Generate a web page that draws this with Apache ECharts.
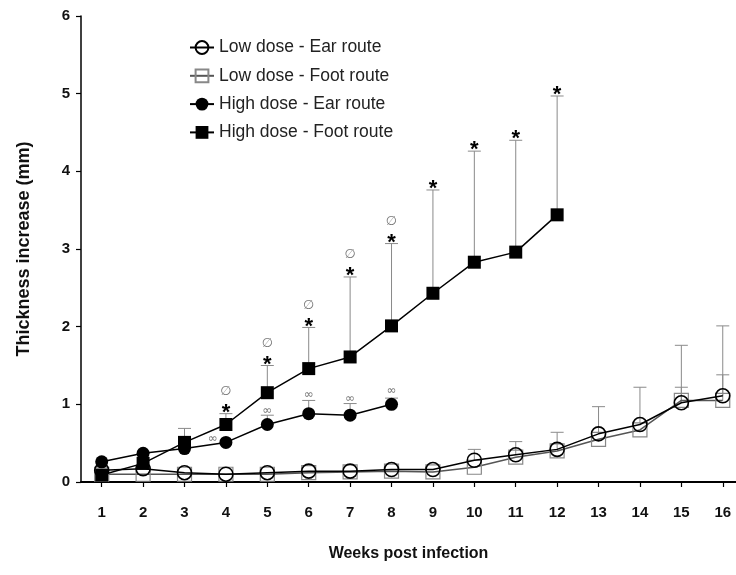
<!DOCTYPE html>
<html><head><meta charset="utf-8">
<script src="https://cdn.jsdelivr.net/npm/echarts@6/dist/echarts.min.js"></script>
<style>html,body{margin:0;padding:0;background:#fff}#c{width:736px;height:575px}</style>
</head><body><div id="c"></div>
<script>
// ---- data ----
const weeks = [1,2,3,4,5,6,7,8,9,10,11,12,13,14,15,16];
const yTicks = [0,1,2,3,4,5,6];
const seriesNames = ['Low dose - Ear route','Low dose - Foot route','High dose - Ear route','High dose - Foot route'];

const lowEar   = [0.15,0.17,0.12,0.10,0.12,0.14,0.14,0.16,0.16,0.28,0.35,0.42,0.62,0.74,1.02,1.11];
const lowFoot  = [0.10,0.10,0.10,0.10,0.10,0.12,0.13,0.14,0.13,0.19,0.32,0.40,0.55,0.67,1.05,1.05];
const highEar  = [0.26,0.37,0.43,0.51,0.74,0.88,0.86,1.00];
const highFoot = [0.09,0.24,0.51,0.74,1.15,1.46,1.61,2.01,2.43,2.83,2.96,3.44];

// upward error (SD) per week, null = not drawn
const lowEarSd   = [null,null,null,null,null,null,null,null,null,0.14,0.17,0.22,0.35,0.48,0.20,0.90];
const lowFootSd  = [null,null,null,null,null,null,null,null,null,null,null,null,null,null,0.71,0.33];
const highEarSd  = [null,null,null,null,0.12,0.17,0.15,0.08];
const highFootSd = [null,null,0.18,0.14,0.35,0.53,1.03,1.06,1.33,1.43,1.44,1.53];

// significance marks
const starWeeks = [4,5,6,7,8,9,10,11,12];     // '*' above High dose - Foot route
const phiWeeks  = [4,5,6,7,8];                 // '∅' above the star
const infMarks  = [[3.68,0.56],[5,0.92],[6,1.12],[7,1.07],[8,1.17]]; // '∞' (week, mm)

// ---- chart ----
const FONT = '"Liberation Sans", Arial, sans-serif';
const chart = echarts.init(document.getElementById('c'));

function pts(vals){ return vals.map((v,i)=>[weeks[i], v]); }

function errSeries(means, sds){
  const data = [];
  means.forEach((m,i)=>{ if (sds[i] != null) data.push([weeks[i], m, m + sds[i]]); });
  return {
    type:'custom', silent:true, z:1, data,
    encode:{x:0, y:[1,2]},
    renderItem(params, api){
      const x = api.value(0), m = api.value(1), t = api.value(2);
      const p0 = api.coord([x,m]), p1 = api.coord([x,t]);
      const w = 6.5;
      return {type:'group', children:[
        {type:'line', shape:{x1:p0[0],y1:p0[1],x2:p1[0],y2:p1[1]}, style:{stroke:'#8a8a8a', lineWidth:1}},
        {type:'line', shape:{x1:p1[0]-w,y1:p1[1],x2:p1[0]+w,y2:p1[1]}, style:{stroke:'#8a8a8a', lineWidth:1}}
      ]};
    }
  };
}

const footTop = highFoot.map((m,i)=> highFootSd[i]!=null ? m + highFootSd[i] : m);

const sigSeries = {
  type:'custom', silent:true, z:5,
  data: starWeeks.map(w => [w, footTop[w-1]]),
  encode:{x:0, y:1},
  renderItem(params, api){
    const w = api.value(0), t = api.value(1);
    const p = api.coord([w, t]);
    const children = [
      {type:'text', x:p[0], y:p[1]-1, style:{text:'*', font:'bold 22px ' + FONT, fill:'#000', align:'center', verticalAlign:'middle'}}
    ];
    if (phiWeeks.indexOf(w) >= 0) {
      children.push({type:'text', x:p[0], y:p[1]-22, style:{text:'\u2205', font:'13px "DejaVu Sans"', fill:'#777', align:'center', verticalAlign:'middle'}});
    }
    return {type:'group', children};
  }
};

const infSeries = {
  type:'custom', silent:true, z:5,
  data: infMarks,
  encode:{x:0, y:1},
  renderItem(params, api){
    const p = api.coord([api.value(0), api.value(1)]);
    return {type:'text', x:p[0], y:p[1], style:{text:'\u221E', font:'12px "DejaVu Sans"', fill:'#777', align:'center', verticalAlign:'middle'}};
  }
};

chart.setOption({
  animation:false,
  backgroundColor:'#fff',
  grid:{left:81, right:0, top:16, bottom:93, containLabel:false},
  legend:{
    data: seriesNames,
    orient:'vertical', left:189, top:38.5, padding:0,
    itemWidth:24, itemHeight:16, itemGap:10.3,
    textStyle:{fontFamily:FONT, fontSize:17.5, color:'#222'}
  },
  xAxis:{
    type:'value', min:0.5, max:16.32,
    name:'Weeks post infection', nameLocation:'middle', nameGap:64,
    nameTextStyle:{fontFamily:FONT, fontSize:16, fontWeight:'bold', color:'#111'},
    axisLine:{show:true, onZero:false, lineStyle:{color:'#000', width:2}},
    axisTick:{show:true, customValues:weeks, length:5, lineStyle:{color:'#000', width:1.2}},
    axisLabel:{customValues:weeks, margin:23, fontFamily:FONT, fontSize:15, fontWeight:'bold', color:'#111'},
    splitLine:{show:false}
  },
  yAxis:{
    type:'value', min:0, max:6, interval:1,
    name:'Thickness increase (mm)', nameLocation:'middle', nameGap:48,
    nameTextStyle:{fontFamily:FONT, fontSize:18, fontWeight:'bold', color:'#111'},
    axisLine:{show:true, lineStyle:{color:'#000', width:1.5}},
    axisTick:{show:true, length:5, lineStyle:{color:'#000', width:1.2}},
    axisLabel:{margin:11, fontFamily:FONT, fontSize:15, fontWeight:'bold', color:'#111',
      formatter: v => (yTicks.indexOf(v) >= 0 ? String(v) : '')},
    splitLine:{show:false}
  },
  series:[
    errSeries(lowEar, lowEarSd),
    errSeries(lowFoot, lowFootSd),
    errSeries(highEar, highEarSd),
    errSeries(highFoot, highFootSd),
    {name:seriesNames[1], type:'line', data:pts(lowFoot), symbol:'rect', symbolSize:14, z:2,
      lineStyle:{color:'#555', width:1.5},
      itemStyle:{color:'rgba(255,255,255,0)', borderColor:'#888', borderWidth:1.2}},
    {name:seriesNames[0], type:'line', data:pts(lowEar), symbol:'circle', symbolSize:14, z:3,
      lineStyle:{color:'#000', width:1.5},
      itemStyle:{color:'rgba(255,255,255,0)', borderColor:'#000', borderWidth:1.6}},
    {name:seriesNames[2], type:'line', data:pts(highEar), symbol:'circle', symbolSize:13, z:3,
      lineStyle:{color:'#000', width:1.5},
      itemStyle:{color:'#000', borderColor:'#000', borderWidth:0}},
    {name:seriesNames[3], type:'line', data:pts(highFoot), symbol:'rect', symbolSize:13, z:3,
      lineStyle:{color:'#000', width:1.5},
      itemStyle:{color:'#000', borderColor:'#000', borderWidth:0}},
    sigSeries,
    infSeries
  ]
});
</script>
</body></html>
